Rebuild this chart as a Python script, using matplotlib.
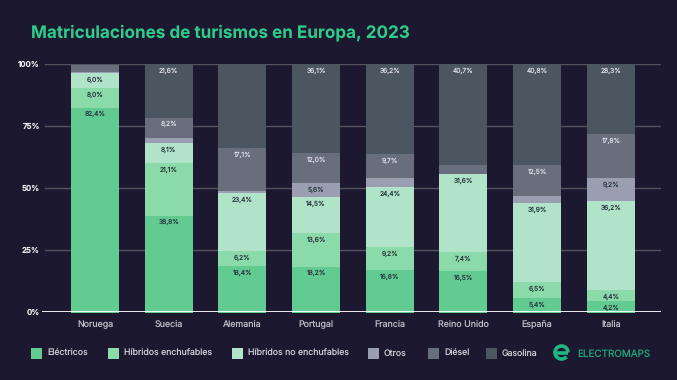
import matplotlib
matplotlib.use('Agg')
import matplotlib.pyplot as plt
import numpy as np
from matplotlib.patches import Rectangle, Arc

paises = ['Noruega', 'Suecia', 'Alemania', 'Portugal', 'Francia', 'Reino Unido', 'España', 'Italia']
electricos = [82.4, 38.8, 18.4, 18.2, 16.8, 16.5, 5.4, 4.2]
hib_enchufables = [8.0, 21.1, 6.2, 13.6, 9.2, 7.4, 6.5, 4.4]
hib_no_enchufables = [6.0, 8.1, 23.4, 14.5, 24.4, 31.6, 31.9, 36.2]
otros = [0.4, 2.2, 0.9, 5.6, 3.7, 0.0, 2.9, 9.2]
diesel = [2.9, 8.2, 17.1, 12.0, 9.7, 3.8, 12.5, 17.8]
gasolina = [0.3, 21.6, 34.4, 36.1, 36.2, 40.7, 40.8, 28.3]

nombres = ['Eléctricos', 'Híbridos enchufables', 'Híbridos no enchufables', 'Otros', 'Diésel', 'Gasolina']
series = [electricos, hib_enchufables, hib_no_enchufables, otros, diesel, gasolina]
colores = ['#62CB92', '#8BDAA9', '#B0E3C8', '#9A9EB0', '#686E7C', '#4C5660']
col_texto = ['#2B3A40', '#2B3A40', '#2B3A40', '#2B3A40', '#DADAE2', '#DADAE2']
yticks = [0, 25, 50, 75, 100]

fondo = '#1C1830'
plt.rcParams['font.family'] = ['Inter', 'DejaVu Sans']
plt.rcParams['text.hinting'] = 'no_hinting'
plt.rcParams['text.hinting_factor'] = 1

fig = plt.figure(figsize=(6.77, 3.8), dpi=100, facecolor=fondo)
W, H = 677, 380
ax = fig.add_axes([42 / W, 1 - 311.7 / H, (661 - 42) / W, (311.7 - 64) / H])
ax.set_facecolor(fondo)
ax.set_xlim(-0.719, 7.68)
ax.set_ylim(0, 100)
for s in ax.spines.values():
    s.set_visible(False)

x = np.arange(len(paises))
ancho = 0.651
abajo = np.zeros(len(paises))
for i in range(6):
    v = np.array(series[i])
    ax.bar(x, v, ancho, bottom=abajo, color=colores[i], zorder=2)
    for j in range(len(paises)):
        if v[j] >= 4:
            ax.annotate(f'{v[j]:.1f}%'.replace('.', ','), (x[j], abajo[j] + v[j]), xytext=(0, -4.9),
                        textcoords='offset points', ha='center', va='center', fontsize=4.8,
                        color=col_texto[i], zorder=4)
    abajo = abajo + v
# los pies de las barras bajan un poco del cero
ax.bar(x, 0.6, ancho, bottom=-0.6, color=colores[0], clip_on=False, zorder=2)

for t in yticks[1:]:
    ax.axhline(t, color='#55515F', lw=1, zorder=1, xmin=3 / 619)
ax.axhline(0, color='white', lw=1.3, zorder=3)

ax.set_xticks(x)
ax.set_xticklabels(paises, fontsize=6.4, color='#BDBCC6')
ax.set_yticks(yticks)
ax.set_yticklabels([f'{t}%' for t in yticks], fontsize=5.7, color='#EDEDF0', fontweight='semibold')
ax.tick_params(length=0)
ax.tick_params(axis='x', pad=6.5)
ax.tick_params(axis='y', pad=1.5)

# capa en pixeles para titulo, leyenda y logo
capa = fig.add_axes([0, 0, 1, 1])
capa.set_xlim(0, W)
capa.set_ylim(H, 0)
capa.axis('off')
capa.patch.set_alpha(0)

capa.text(31, 38, 'Matriculaciones de turismos en Europa, 2023', fontsize=12.3, fontweight='bold',
          color='#2ECC8A', va='baseline', ha='left')

ley_x = [31, 108, 231.5, 368, 428, 486]
for i in range(6):
    capa.add_patch(Rectangle((ley_x[i], 348), 11, 11, color=colores[i], lw=0))
    capa.text(ley_x[i] + 16, 356.3, nombres[i], fontsize=6.3, color='#CDCDD4', va='baseline', ha='left')

verde = '#1FB57E'
capa.add_patch(Arc((561.5, 352.5), 13, 13, theta1=40, theta2=360, color=verde, lw=2.6))
capa.plot([555, 568], [352.5, 352.5], color=verde, lw=2.6, solid_capstyle='butt')
capa.text(577, 356.5, 'ELECTROMAPS', fontsize=7.1, color='#1FA67A', va='baseline', ha='left')

fig.savefig('out.png', dpi=100, facecolor=fondo)
